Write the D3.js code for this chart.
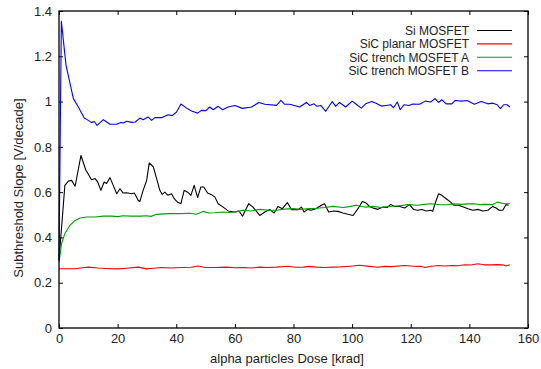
<!DOCTYPE html>
<html>
<head>
<meta charset="utf-8">
<script src="https://cdn.jsdelivr.net/npm/d3@7"></script>
<style>
  body { margin: 0; background: #fff; }
  svg { display: block; font-family: "Liberation Sans", Arial, sans-serif; }
</style>
</head>
<body>
<div id="chart"></div>
<script>
// dose [krad], subthreshold slope [V/decade]
const siMosfet = [
  [0, 0.30], [2.0, 0.63], [3.2, 0.649], [4.3, 0.652], [5.5, 0.626], [7.5, 0.762], [9.1, 0.699],
  [11.1, 0.655], [12.3, 0.66], [13.2, 0.645], [14.3, 0.608], [15.4, 0.645], [16.2, 0.638],
  [17.4, 0.664], [18.5, 0.63], [19.7, 0.593], [20.8, 0.615], [21.9, 0.596], [23, 0.597],
  [24.8, 0.593], [25.7, 0.596], [27, 0.564], [27.6, 0.559], [28.7, 0.608], [29.9, 0.652],
  [30.8, 0.729], [32.2, 0.711], [33.3, 0.66], [34.4, 0.608], [35.2, 0.59], [36.1, 0.6],
  [37.2, 0.586], [38.4, 0.593], [39.3, 0.571], [40.4, 0.556], [41.6, 0.549], [42.7, 0.608],
  [43.9, 0.6], [45, 0.586], [46.1, 0.63], [47.3, 0.576], [48.4, 0.623], [49.4, 0.623],
  [50.7, 0.596], [52, 0.589], [53.2, 0.578], [54.3, 0.549], [56, 0.534], [57.7, 0.517],
  [60, 0.512], [61.4, 0.517], [62.6, 0.494], [64.7, 0.549], [66.2, 0.534], [68.5, 0.497],
  [70.2, 0.512], [71.9, 0.523], [73.4, 0.508], [74.7, 0.537], [76.2, 0.527], [77.9, 0.554],
  [79.3, 0.523], [81.6, 0.523], [82.7, 0.534], [83.6, 0.512], [84.8, 0.524], [86, 0.52],
  [87.6, 0.527], [89.5, 0.542], [90.6, 0.549], [92, 0.512], [93.7, 0.517], [95.2, 0.515],
  [96.9, 0.508], [98.6, 0.502], [100.3, 0.497], [102, 0.527], [103.5, 0.559], [104.8, 0.552],
  [105.9, 0.537], [107.1, 0.53], [108.8, 0.524], [110.5, 0.534], [112, 0.532], [113.1, 0.546],
  [114.5, 0.537], [116.2, 0.537], [117.9, 0.53], [119.6, 0.545], [121, 0.523], [122.4, 0.52],
  [123.8, 0.523], [125.3, 0.517], [126.8, 0.52], [127.5, 0.515], [128.1, 0.542], [129.5, 0.593],
  [130.6, 0.586], [132.1, 0.571], [133.6, 0.556], [134.7, 0.542], [136.3, 0.542], [138, 0.534],
  [139.5, 0.527], [141.2, 0.52], [142.9, 0.524], [144.6, 0.517], [146.3, 0.52], [148, 0.537],
  [149.1, 0.53], [150.2, 0.52], [151.4, 0.52], [152.5, 0.545], [153.4, 0.542]
];

const sicPlanar = [
  [0, 0.262], [3, 0.262], [5.5, 0.262], [8, 0.266], [10, 0.269], [13.2, 0.265], [16, 0.263],
  [20, 0.261], [23, 0.264], [27, 0.269], [29.9, 0.261], [32, 0.264], [35, 0.267], [38, 0.265],
  [41.8, 0.267], [45, 0.268], [47.5, 0.274], [49.8, 0.267], [53.2, 0.267], [57.1, 0.269],
  [60, 0.266], [62.8, 0.267], [65.5, 0.265], [68.5, 0.269], [71, 0.267], [74.2, 0.269],
  [78.2, 0.273], [80.5, 0.268], [83.3, 0.269], [85.5, 0.272], [87.9, 0.269], [90.5, 0.267],
  [93.5, 0.269], [96, 0.27], [99.2, 0.273], [102.5, 0.277], [105.9, 0.272], [108.8, 0.268],
  [111, 0.272], [113.4, 0.271], [117.9, 0.276], [121, 0.273], [123.6, 0.272], [124.8, 0.267],
  [127, 0.273], [129.4, 0.276], [131.5, 0.274], [134, 0.276], [136, 0.275], [138.5, 0.279],
  [140.5, 0.278], [142.9, 0.284], [145, 0.279], [147.4, 0.279], [149.5, 0.28], [151.4, 0.279],
  [152.5, 0.274], [153.8, 0.279]
];

const sicTrenchA = [
  [0, 0.29], [0.9, 0.373], [2.0, 0.417], [3.7, 0.453], [5.5, 0.475], [7.2, 0.486], [9.4, 0.49],
  [12.3, 0.49], [15.1, 0.494], [17.9, 0.494], [20.1, 0.492], [21.8, 0.496], [24.6, 0.494],
  [28, 0.494], [29.7, 0.496], [31.4, 0.493], [33.3, 0.502], [37.2, 0.505], [41.7, 0.505],
  [44.6, 0.507], [46.8, 0.502], [49.2, 0.515], [51.1, 0.508], [53.2, 0.509], [56, 0.512],
  [58.3, 0.51], [60.5, 0.514], [62.8, 0.52], [65.5, 0.517], [68.5, 0.524], [71.5, 0.52],
  [74.2, 0.52], [77, 0.525], [79.8, 0.527], [82.5, 0.524], [85.5, 0.527], [88, 0.529],
  [90.6, 0.532], [93.5, 0.537], [96.9, 0.532], [99, 0.536], [101.4, 0.542], [104.3, 0.534],
  [107, 0.537], [110, 0.532], [112.5, 0.537], [115.6, 0.539], [119, 0.545], [122.4, 0.542],
  [124.5, 0.546], [127, 0.549], [130, 0.544], [132.6, 0.545], [135, 0.549], [137.2, 0.546],
  [139.5, 0.548], [141.7, 0.549], [143.5, 0.545], [145.1, 0.546], [148, 0.545], [149.5, 0.556],
  [152, 0.549], [153.8, 0.549]
];

const sicTrenchB = [
  [0, 0.30], [0.8, 1.354], [2.4, 1.16], [4.9, 1.013], [6.6, 0.976], [8.6, 0.927], [10, 0.917],
  [11.1, 0.907], [12, 0.912], [13, 0.895], [15.1, 0.92], [17.4, 0.90], [19.6, 0.90], [21.1, 0.908],
  [21.9, 0.905], [23.1, 0.913], [24.8, 0.908], [26, 0.91], [27.6, 0.927], [28.7, 0.92],
  [30.4, 0.932], [31.6, 0.917], [32.7, 0.929], [35, 0.929], [37.2, 0.942], [38.6, 0.938],
  [40.1, 0.954], [41.6, 0.989], [43.5, 0.971], [45.2, 0.958], [47.3, 0.949], [48.6, 0.961],
  [50.1, 0.96], [51.4, 0.976], [52.6, 0.964], [54.3, 0.979], [55.8, 0.964], [57.7, 0.976],
  [60, 0.983], [62.6, 0.97], [65.7, 0.976], [68.2, 0.996], [70.2, 0.988], [74.2, 0.983],
  [75.7, 1.005], [77, 0.988], [78.7, 0.988], [82.1, 0.976], [84.4, 0.996], [85.5, 0.983],
  [87, 0.99], [88, 0.979], [89.3, 0.983], [91, 0.957], [93.2, 1.0], [94.4, 0.979], [95.7, 0.996],
  [97.8, 0.976], [100, 1.002], [101.4, 0.988], [103.1, 0.971], [104.6, 0.99], [106.7, 1.0],
  [108.2, 0.993], [110, 0.98], [111.6, 0.983], [113.1, 0.986], [114.1, 0.973], [115.4, 0.998],
  [116.4, 0.964], [117.7, 0.986], [119.4, 0.983], [120.7, 0.989], [123, 0.988], [125, 1.002],
  [126.8, 0.998], [128.3, 1.013], [129.5, 0.996], [130.6, 1.008], [132.1, 0.99], [134, 0.99],
  [135.2, 1.005], [137.2, 1.002], [139.2, 1.005], [141.7, 0.988], [144, 1.0], [146.3, 0.99],
  [148, 0.993], [149.5, 0.986], [150.6, 0.969], [151.7, 0.986], [152.9, 0.986], [153.8, 0.976]
];

const seriesNames = ['Si MOSFET', 'SiC planar MOSFET', 'SiC trench MOSFET A', 'SiC trench MOSFET B'];
const seriesColors = ['#000000', '#ff0000', '#00a000', '#0000ff'];
const seriesData = [siMosfet, sicPlanar, sicTrenchA, sicTrenchB];

const xTicks = [0, 20, 40, 60, 80, 100, 120, 140, 160];
const yTicks = [0, 0.2, 0.4, 0.6, 0.8, 1, 1.2, 1.4];

const width = 541;
const height = 369;
const margin = { top: 11, right: 13, bottom: 41, left: 59 };
const innerW = width - margin.left - margin.right;
const innerH = height - margin.top - margin.bottom;
const fontSize = '13px';

const svg = d3.select('#chart').append('svg')
  .attr('width', width)
  .attr('height', height);

const g = svg.append('g')
  .attr('transform', `translate(${margin.left},${margin.top})`);

const x = d3.scaleLinear().domain([0, 160]).range([0, innerW]);
const y = d3.scaleLinear().domain([0, 1.4]).range([innerH, 0]);

// axes with inward ticks, mirrored on top and right
const axisStyle = sel => {
  sel.select('.domain').remove();
  sel.selectAll('text').style('font-size', fontSize).style('fill', '#222');
  sel.selectAll('line').attr('stroke', '#000');
};

g.append('g')
  .attr('transform', `translate(0,${innerH})`)
  .call(d3.axisBottom(x).tickValues(xTicks).tickSizeInner(-4).tickSizeOuter(0).tickPadding(6))
  .call(axisStyle);

g.append('g')
  .call(d3.axisLeft(y).tickValues(yTicks).tickSizeInner(-4).tickSizeOuter(0).tickPadding(7)
    .tickFormat(d3.format('~g')))
  .call(axisStyle);

g.append('g')
  .call(d3.axisTop(x).tickValues(xTicks).tickSizeInner(-4).tickSizeOuter(0).tickFormat(''))
  .call(axisStyle);

g.append('g')
  .attr('transform', `translate(${innerW},0)`)
  .call(d3.axisRight(y).tickValues(yTicks).tickSizeInner(-4).tickSizeOuter(0).tickFormat(''))
  .call(axisStyle);

const line = d3.line()
  .x(d => x(d[0]))
  .y(d => y(d[1]));

seriesData.forEach((data, i) => {
  g.append('path')
    .datum(data)
    .attr('fill', 'none')
    .attr('stroke', seriesColors[i])
    .attr('stroke-width', 1.1)
    .attr('stroke-linejoin', 'round')
    .attr('d', line);
});

// frame
g.append('rect')
  .attr('width', innerW)
  .attr('height', innerH)
  .attr('fill', 'none')
  .attr('stroke', '#000')
  .attr('stroke-width', 1.3);

// legend
const legend = g.append('g')
  .attr('transform', `translate(${469 - margin.left},${30.5 - margin.top})`);

seriesNames.forEach((name, i) => {
  const row = legend.append('g').attr('transform', `translate(0,${i * 13.4})`);
  row.append('text')
    .attr('x', 0)
    .attr('y', 4.3)
    .attr('text-anchor', 'end')
    .style('font-size', '12px')
    .style('fill', '#222')
    .text(name);
  row.append('line')
    .attr('x1', 8)
    .attr('x2', 43)
    .attr('stroke', seriesColors[i])
    .attr('stroke-width', 1.1);
});

// axis titles
svg.append('text')
  .attr('x', 287)
  .attr('y', 363)
  .attr('text-anchor', 'middle')
  .style('font-size', fontSize)
  .style('fill', '#222')
  .text('alpha particles Dose [krad]');

svg.append('text')
  .attr('transform', 'translate(23,188) rotate(-90)')
  .attr('text-anchor', 'middle')
  .style('font-size', fontSize)
  .style('fill', '#222')
  .text('Subthreshold Slope [V/decade]');
</script>
</body>
</html>
